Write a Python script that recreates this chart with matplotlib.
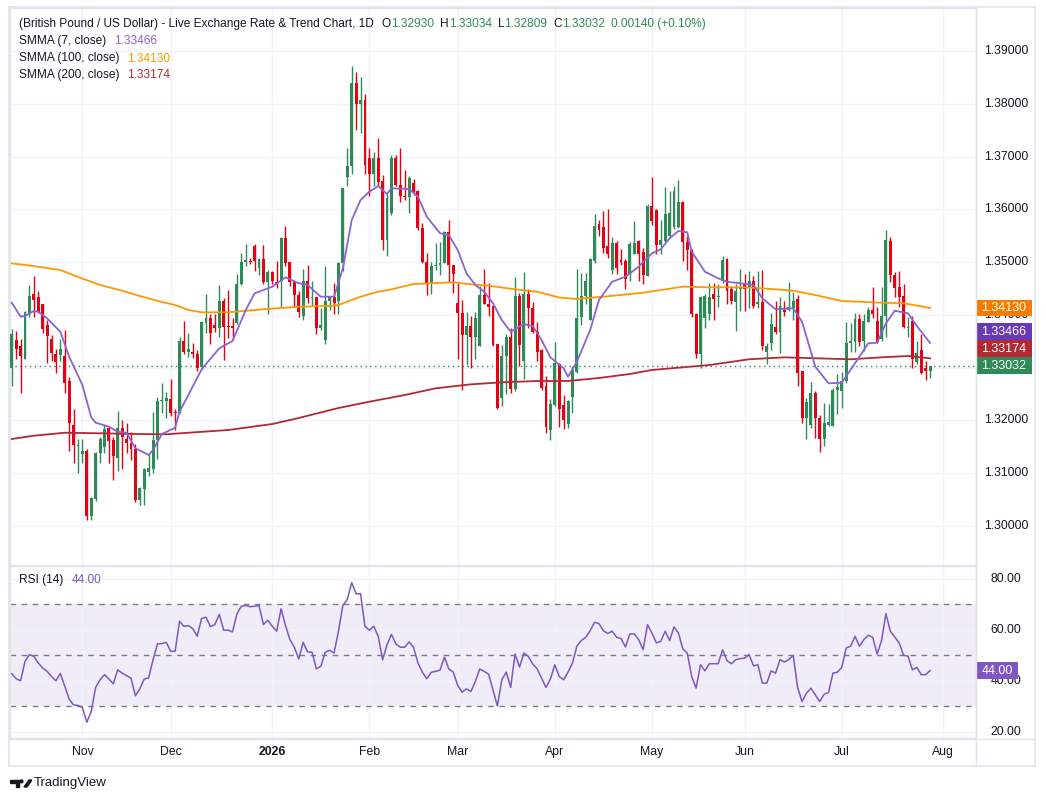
import matplotlib
matplotlib.use("Agg")
import matplotlib.pyplot as plt
import matplotlib.transforms as mtransforms
from matplotlib.patches import Rectangle, Polygon
import numpy as np
import pandas as pd

# ---------------- data ----------------
start_date = "2025-10-10"

open_ = [1.3300, 1.3352, 1.3341, 1.3317, 1.3403, 1.3439, 1.3434, 1.3421, 1.3381, 1.3354,
         1.3326, 1.3324, 1.3322, 1.3274, 1.3191, 1.3152, 1.3136, 1.3142, 1.3018, 1.3051,
         1.3137, 1.3149, 1.3185, 1.3163, 1.3129, 1.3186, 1.3164, 1.3157, 1.3146, 1.3049,
         1.3070, 1.3102, 1.3107, 1.3163, 1.3237, 1.3237, 1.3240, 1.3216, 1.3214, 1.3350,
         1.3330, 1.3329, 1.3326, 1.3301, 1.3385, 1.3394, 1.3380, 1.3374, 1.3427, 1.3378,
         1.3379, 1.3385, 1.3458, 1.3501, 1.3502, 1.3531, 1.3488, 1.3505, 1.3463, 1.3482,
         1.3463, 1.3465, 1.3545, 1.3501, 1.3465, 1.3437, 1.3398, 1.3464, 1.3431, 1.3434,
         1.3375, 1.3353, 1.3426, 1.3434, 1.3426, 1.3498, 1.3662, 1.3683, 1.3839, 1.3800,
         1.3808, 1.3697, 1.3667, 1.3697, 1.3653, 1.3541, 1.3593, 1.3698, 1.3647, 1.3626,
         1.3624, 1.3650, 1.3634, 1.3565, 1.3501, 1.3460, 1.3492, 1.3494, 1.3499, 1.3557,
         1.3494, 1.3422, 1.3403, 1.3362, 1.3379, 1.3357, 1.3341, 1.3438, 1.3420, 1.3416,
         1.3345, 1.3243, 1.3322, 1.3357, 1.3259, 1.3435, 1.3313, 1.3439, 1.3412, 1.3368,
         1.3333, 1.3264, 1.3182, 1.3229, 1.3306, 1.3229, 1.3193, 1.3244, 1.3292, 1.3396,
         1.3436, 1.3391, 1.3502, 1.3572, 1.3566, 1.3531, 1.3485, 1.3537, 1.3504, 1.3502,
         1.3477, 1.3516, 1.3540, 1.3519, 1.3474, 1.3607, 1.3598, 1.3533, 1.3540, 1.3550,
         1.3566, 1.3566, 1.3613, 1.3539, 1.3522, 1.3402, 1.3325, 1.3394, 1.3401, 1.3439,
         1.3433, 1.3464, 1.3505, 1.3448, 1.3425, 1.3449, 1.3458, 1.3451, 1.3465, 1.3420,
         1.3424, 1.3330, 1.3346, 1.3377, 1.3368, 1.3410, 1.3409, 1.3413, 1.3429, 1.3294,
         1.3205, 1.3191, 1.3252, 1.3204, 1.3164, 1.3191, 1.3189, 1.3257, 1.3256, 1.3275,
         1.3346, 1.3349, 1.3392, 1.3351, 1.3387, 1.3410, 1.3389, 1.3354, 1.3397, 1.3540,
         1.3476, 1.3453, 1.3436, 1.3375, 1.3389, 1.3310, 1.3333, 1.3299, 1.32930]

high = [1.3373, 1.3369, 1.3354, 1.3407, 1.3457, 1.3474, 1.3445, 1.3421, 1.3390, 1.3361,
        1.3336, 1.3355, 1.3371, 1.3282, 1.3221, 1.3165, 1.3164, 1.3146, 1.3054, 1.3140,
        1.3168, 1.3191, 1.3188, 1.3168, 1.3217, 1.3201, 1.3195, 1.3177, 1.3155, 1.3073,
        1.3110, 1.3136, 1.3216, 1.3245, 1.3270, 1.3254, 1.3278, 1.3222, 1.3357, 1.3388,
        1.3365, 1.3346, 1.3334, 1.3389, 1.3439, 1.3402, 1.3401, 1.3457, 1.3431, 1.3447,
        1.3394, 1.3477, 1.3518, 1.3534, 1.3507, 1.3534, 1.3508, 1.3532, 1.3485, 1.3483,
        1.3502, 1.3548, 1.3569, 1.3501, 1.3465, 1.3445, 1.3486, 1.3495, 1.3464, 1.3434,
        1.3413, 1.3493, 1.3434, 1.3461, 1.3501, 1.3640, 1.3716, 1.3871, 1.3860, 1.3851,
        1.3819, 1.3716, 1.3708, 1.3735, 1.3666, 1.3630, 1.3704, 1.3704, 1.3717, 1.3675,
        1.3664, 1.3657, 1.3637, 1.3574, 1.3518, 1.3501, 1.3536, 1.3539, 1.3558, 1.3579,
        1.3495, 1.3460, 1.3428, 1.3405, 1.3397, 1.3406, 1.3454, 1.3487, 1.3460, 1.3417,
        1.3345, 1.3343, 1.3364, 1.3374, 1.3471, 1.3441, 1.3481, 1.3449, 1.3425, 1.3387,
        1.3335, 1.3284, 1.3241, 1.3349, 1.3308, 1.3248, 1.3239, 1.3302, 1.3486, 1.3480,
        1.3480, 1.3507, 1.3592, 1.3579, 1.3596, 1.3600, 1.3547, 1.3540, 1.3524, 1.3505,
        1.3538, 1.3578, 1.3541, 1.3526, 1.3610, 1.3662, 1.3600, 1.3579, 1.3643, 1.3635,
        1.3645, 1.3656, 1.3616, 1.3550, 1.3524, 1.3404, 1.3436, 1.3439, 1.3461, 1.3461,
        1.3458, 1.3512, 1.3507, 1.3455, 1.3458, 1.3486, 1.3477, 1.3483, 1.3474, 1.3483,
        1.3484, 1.3346, 1.3403, 1.3427, 1.3434, 1.3427, 1.3463, 1.3444, 1.3438, 1.3294,
        1.3243, 1.3273, 1.3256, 1.3209, 1.3233, 1.3230, 1.3262, 1.3287, 1.3292, 1.3386,
        1.3384, 1.3403, 1.3401, 1.3401, 1.3415, 1.3453, 1.3415, 1.3452, 1.3560, 1.3547,
        1.3481, 1.3483, 1.3458, 1.3395, 1.3398, 1.3351, 1.3363, 1.3313, 1.33034]

low = [1.3264, 1.3317, 1.3252, 1.3316, 1.3395, 1.3395, 1.3403, 1.3365, 1.3309, 1.3312,
       1.3290, 1.3313, 1.3251, 1.3142, 1.3119, 1.3099, 1.3119, 1.3011, 1.3011, 1.3047,
       1.3118, 1.3138, 1.3119, 1.3087, 1.3104, 1.3108, 1.3138, 1.3124, 1.3045, 1.3040,
       1.3039, 1.3094, 1.3100, 1.3127, 1.3214, 1.3204, 1.3208, 1.3182, 1.3213, 1.3325,
       1.3320, 1.3318, 1.3294, 1.3298, 1.3366, 1.3344, 1.3368, 1.3358, 1.3315, 1.3356,
       1.3355, 1.3383, 1.3457, 1.3493, 1.3496, 1.3483, 1.3476, 1.3458, 1.3402, 1.3458,
       1.3450, 1.3415, 1.3493, 1.3455, 1.3417, 1.3396, 1.3391, 1.3423, 1.3417, 1.3364,
       1.3372, 1.3345, 1.3410, 1.3401, 1.3402, 1.3483, 1.3645, 1.3667, 1.3751, 1.3744,
       1.3667, 1.3626, 1.3645, 1.3645, 1.3522, 1.3512, 1.3590, 1.3645, 1.3613, 1.3618,
       1.3594, 1.3628, 1.3561, 1.3499, 1.3438, 1.3439, 1.3484, 1.3476, 1.3498, 1.3462,
       1.3442, 1.3317, 1.3257, 1.3305, 1.3300, 1.3316, 1.3341, 1.3420, 1.3397, 1.3341,
       1.3222, 1.3227, 1.3250, 1.3252, 1.3256, 1.3303, 1.3278, 1.3374, 1.3365, 1.3313,
       1.3258, 1.3176, 1.3163, 1.3227, 1.3188, 1.3184, 1.3185, 1.3213, 1.3290, 1.3380,
       1.3420, 1.3390, 1.3499, 1.3550, 1.3518, 1.3507, 1.3477, 1.3477, 1.3495, 1.3448,
       1.3464, 1.3515, 1.3464, 1.3458, 1.3474, 1.3571, 1.3515, 1.3515, 1.3539, 1.3547,
       1.3562, 1.3564, 1.3502, 1.3484, 1.3396, 1.3318, 1.3300, 1.3375, 1.3391, 1.3391,
       1.3415, 1.3461, 1.3420, 1.3420, 1.3369, 1.3408, 1.3407, 1.3413, 1.3413, 1.3413,
       1.3333, 1.3306, 1.3333, 1.3363, 1.3327, 1.3398, 1.3408, 1.3390, 1.3265, 1.3194,
       1.3164, 1.3186, 1.3167, 1.3140, 1.3151, 1.3189, 1.3189, 1.3211, 1.3223, 1.3271,
       1.3329, 1.3329, 1.3341, 1.3332, 1.3387, 1.3394, 1.3346, 1.3351, 1.3357, 1.3462,
       1.3433, 1.3414, 1.3375, 1.3357, 1.3300, 1.3306, 1.3287, 1.3276, 1.32809]

close = [1.3364, 1.3335, 1.3321, 1.3405, 1.3436, 1.3428, 1.3406, 1.3373, 1.3359, 1.3328,
         1.3311, 1.3336, 1.3271, 1.3195, 1.3153, 1.3153, 1.3142, 1.3018, 1.3052, 1.3137,
         1.3164, 1.3183, 1.3161, 1.3132, 1.3186, 1.3168, 1.3156, 1.3145, 1.3049, 1.3071,
         1.3107, 1.3110, 1.3163, 1.3237, 1.3239, 1.3243, 1.3214, 1.3214, 1.3350, 1.3330,
         1.3335, 1.3325, 1.3299, 1.3387, 1.3394, 1.3366, 1.3374, 1.3426, 1.3377, 1.3376,
         1.3374, 1.3458, 1.3501, 1.3503, 1.3500, 1.3502, 1.3505, 1.3463, 1.3482, 1.3464,
         1.3458, 1.3545, 1.3499, 1.3463, 1.3437, 1.3406, 1.3464, 1.3431, 1.3433, 1.3375,
         1.3380, 1.3427, 1.3434, 1.3423, 1.3498, 1.3640, 1.3683, 1.3839, 1.3800, 1.3808,
         1.3684, 1.3667, 1.3697, 1.3651, 1.3541, 1.3622, 1.3698, 1.3646, 1.3625, 1.3624,
         1.3660, 1.3632, 1.3565, 1.3501, 1.3460, 1.3493, 1.3495, 1.3499, 1.3557, 1.3494,
         1.3478, 1.3403, 1.3362, 1.3379, 1.3357, 1.3393, 1.3438, 1.3420, 1.3414, 1.3343,
         1.3224, 1.3322, 1.3357, 1.3259, 1.3435, 1.3343, 1.3439, 1.3412, 1.3367, 1.3330,
         1.3262, 1.3188, 1.3231, 1.3308, 1.3222, 1.3200, 1.3236, 1.3295, 1.3394, 1.3436,
         1.3464, 1.3505, 1.3569, 1.3560, 1.3526, 1.3516, 1.3537, 1.3488, 1.3501, 1.3467,
         1.3535, 1.3537, 1.3516, 1.3476, 1.3607, 1.3578, 1.3533, 1.3542, 1.3592, 1.3594,
         1.3635, 1.3613, 1.3539, 1.3522, 1.3401, 1.3325, 1.3434, 1.3436, 1.3434, 1.3429,
         1.3435, 1.3503, 1.3446, 1.3426, 1.3446, 1.3451, 1.3448, 1.3465, 1.3417, 1.3424,
         1.3341, 1.3341, 1.3382, 1.3368, 1.3417, 1.3406, 1.3415, 1.3427, 1.3290, 1.3205,
         1.3235, 1.3252, 1.3204, 1.3164, 1.3195, 1.3197, 1.3258, 1.3263, 1.3275, 1.3347,
         1.3351, 1.3392, 1.3349, 1.3389, 1.3410, 1.3401, 1.3348, 1.3397, 1.3541, 1.3476,
         1.3450, 1.3434, 1.3376, 1.3377, 1.3316, 1.3327, 1.3289, 1.3293, 1.33032]

# SMMA lines, read at selected bars (bar index, value)
smma7_bar = [0, 2, 3, 5, 6, 8, 10, 11, 13, 16, 18, 19, 22, 24, 26, 28, 31, 32, 34, 37, 38, 40,
             43, 47, 50, 53, 55, 59, 62, 65, 67, 70, 73, 75, 77, 79, 81, 83, 85, 86, 90, 92,
             94, 97, 99, 101, 103, 105, 107, 109, 111, 113, 116, 118, 120, 122, 125, 126, 128,
             131, 133, 136, 139, 142, 145, 147, 149, 151, 153, 154, 157, 160, 162, 165, 168,
             170, 173, 177, 179, 182, 185, 188, 191, 194, 196, 198, 200, 203, 205, 208]
smma7_val = [1.34229, 1.33964, 1.33977, 1.34072, 1.34058, 1.33933, 1.33763, 1.33679, 1.33205,
             1.32668, 1.32055, 1.31953, 1.31877, 1.31782, 1.31763, 1.31467, 1.31340, 1.31435,
             1.31739, 1.31858, 1.32162, 1.32478, 1.32966, 1.33364, 1.33503, 1.34091, 1.34407,
             1.34533, 1.34711, 1.34597, 1.34565, 1.34343, 1.34343, 1.34882, 1.35798, 1.36177,
             1.36335, 1.36443, 1.36291, 1.36399, 1.36386, 1.36240, 1.35860, 1.35546, 1.35513,
             1.35229, 1.34787, 1.34565, 1.34438, 1.34218, 1.33901, 1.33679, 1.33825, 1.33787,
             1.33522, 1.33193, 1.32985, 1.32825, 1.33110, 1.33711, 1.34280, 1.34627, 1.34722,
             1.34912, 1.35166, 1.35242, 1.35451, 1.35589, 1.35565, 1.35197, 1.34817, 1.34692,
             1.34627, 1.34597, 1.34565, 1.34313, 1.34104, 1.34123, 1.33869, 1.33015, 1.32700,
             1.32712, 1.33080, 1.33459, 1.33470, 1.33838, 1.34077, 1.34028, 1.33787, 1.33466]

smma100_bar = [0, 4, 11, 15, 20, 25, 29, 34, 37, 40, 43, 49, 57, 65, 72, 74, 79, 83, 86, 91,
               100, 104, 108, 114, 119, 124, 128, 134, 143, 152, 158, 166, 170, 177, 182, 188,
               197, 202, 208]
smma100_val = [1.34976, 1.34935, 1.34849, 1.34717, 1.34565, 1.34457, 1.34356, 1.34242,
               1.34186, 1.34091, 1.34047, 1.34047, 1.34104, 1.34153, 1.34167, 1.34186,
               1.34343, 1.34438, 1.34483, 1.34584, 1.34616, 1.34578, 1.34552, 1.34483,
               1.34438, 1.34328, 1.34299, 1.34343, 1.34419, 1.34533, 1.34521, 1.34521,
               1.34502, 1.34457, 1.34375, 1.34261, 1.34229, 1.34218, 1.34130]

smma200_bar = [0, 5, 12, 20, 28, 35, 40, 49, 59, 65, 74, 81, 89, 96, 104, 111, 119, 126, 133,
               140, 145, 158, 167, 175, 182, 190, 197, 203, 208]
smma200_val = [1.31644, 1.31706, 1.31763, 1.31752, 1.31739, 1.31733, 1.31763, 1.31814,
               1.31928, 1.32042, 1.32232, 1.32351, 1.32478, 1.32605, 1.32681, 1.32719,
               1.32744, 1.32744, 1.32801, 1.32877, 1.32953, 1.33047, 1.33156, 1.33193,
               1.33175, 1.33156, 1.33193, 1.33218, 1.33174]

rsi = [42.8, 40.8, 40.0, 47.6, 50.3, 49.6, 47.0, 45.0, 43.7, 41.7,
       40.0, 42.9, 37.8, 32.8, 30.5, 30.3, 29.5, 23.7, 27.9, 37.4,
       40.4, 42.4, 40.7, 38.8, 44.3, 43.0, 42.0, 41.1, 34.1, 36.8,
       40.7, 41.1, 48.3, 54.5, 54.6, 55.1, 51.6, 51.6, 63.4, 61.4,
       61.7, 60.5, 57.5, 64.5, 65.0, 61.3, 62.1, 66.1, 59.9, 59.9,
       59.2, 66.3, 69.3, 69.6, 69.1, 69.3, 69.6, 62.1, 63.8, 61.4,
       59.5, 68.3, 61.7, 56.2, 53.2, 48.6, 55.1, 51.3, 51.3, 44.7,
       45.7, 51.2, 52.0, 50.9, 59.5, 69.7, 72.0, 78.6, 74.2, 74.2,
       61.4, 59.9, 61.4, 57.5, 48.3, 54.2, 58.2, 54.5, 53.2, 53.2,
       55.3, 53.2, 47.0, 43.4, 40.8, 43.3, 43.7, 44.2, 49.3, 44.6,
       43.4, 38.2, 35.5, 36.8, 35.8, 39.7, 44.6, 43.7, 42.6, 36.4,
       30.1, 40.4, 43.4, 37.4, 50.5, 45.4, 50.9, 49.6, 46.6, 44.7,
       41.1, 37.4, 40.7, 46.3, 41.7, 40.4, 43.4, 47.0, 53.6, 55.8,
       57.1, 59.7, 63.0, 62.5, 59.7, 58.6, 59.5, 57.1, 56.6, 53.3,
       58.4, 58.4, 56.2, 52.2, 62.1, 58.8, 54.9, 55.5, 59.5, 55.8,
       61.2, 58.8, 52.5, 50.9, 41.7, 37.1, 46.3, 43.9, 46.7, 46.7,
       46.7, 52.2, 47.9, 46.7, 48.3, 48.7, 48.9, 50.3, 45.9, 46.3,
       39.1, 39.1, 43.9, 43.0, 48.3, 47.4, 48.3, 50.0, 37.4, 31.8,
       35.1, 37.1, 34.5, 31.8, 34.7, 35.4, 43.0, 43.4, 45.3, 52.9,
       53.6, 57.5, 53.6, 56.2, 57.9, 57.1, 50.5, 55.8, 66.4, 59.5,
       57.2, 54.9, 50.0, 49.7, 44.3, 45.3, 42.4, 42.4, 44.0]

price_ticks = [1.30, 1.31, 1.32, 1.33, 1.34, 1.35, 1.36, 1.37, 1.38, 1.39]
rsi_ticks = [20, 40, 60, 80]
rsi_bands = [70, 50, 30]

title = "(British Pound / US Dollar) - Live Exchange Rate & Trend Chart, 1D"
ohlc_letters = ["O", "H", "L", "C"]
change_text = "0.00140 (+0.10%)"
legend_names = ["SMMA (7, close)", "SMMA (100, close)", "SMMA (200, close)"]
rsi_name = "RSI (14)"

# ---------------- styling ----------------
UP = "#2e8b57"
DOWN = "#e50012"
C7 = "#8a63d2"
C100 = "#ff9800"
C200 = "#b22833"
GRID = "#f0f3fa"
BORDER = "#e0e3eb"
TXT = "#131722"
plt.rcParams["font.family"] = ["Liberation Sans", "DejaVu Sans"]

W, H = 1046, 801
fig = plt.figure(figsize=(W / 100, H / 100), dpi=100)
fig.patch.set_facecolor("white")
renderer = fig.canvas.get_renderer()


def fx(x):
    return x / W


def fy(y):
    return 1 - y / H


L_, R_ = 10, 976
ax = fig.add_axes([fx(L_), fy(565), fx(R_) - fx(L_), fy(8) - fy(565)])
rax = fig.add_axes([fx(L_), fy(738), fx(R_) - fx(L_), fy(566) - fy(738)])

n = len(close)
idx = np.arange(n)
o = np.array(open_)
h = np.array(high)
lo = np.array(low)
c = np.array(close)
up = c >= o
colors = np.where(up, UP, DOWN)

# month ticks from a business-day calendar
cal = pd.bdate_range(start_date, periods=n + 15)
month_pos, month_lab, month_bold = [], [], []
for i in range(1, len(cal)):
    if cal[i].month != cal[i - 1].month:
        month_pos.append(i)
        if cal[i].month == 1:
            month_lab.append(str(cal[i].year))
            month_bold.append(True)
        else:
            month_lab.append(cal[i].strftime("%b"))
            month_bold.append(False)

XMIN, XMAX = -0.4, 218.4
for a in (ax, rax):
    a.set_xlim(XMIN, XMAX)
    a.set_xticks(month_pos)
    a.tick_params(length=0, labelbottom=False, labelleft=False)
    a.grid(True, color=GRID, linewidth=1.0)
    a.set_axisbelow(True)
    for s in a.spines.values():
        s.set_color(BORDER)
        s.set_linewidth(1.0)

ax.set_ylim(1.29254, 1.39819)
ax.set_yticks(price_ticks)
rax.set_ylim(17.5, 85.13)
rax.set_yticks(rsi_ticks)

# candles
ax.vlines(idx, lo, h, colors=colors, linewidth=1.0, zorder=2)
body_h = np.maximum(np.abs(c - o), 0.00012)
ax.bar(idx, body_h, bottom=np.minimum(o, c), width=0.66, color=colors,
       edgecolor="none", zorder=3)

# SMMA lines
ax.plot(smma200_bar, smma200_val, color=C200, lw=1.3, zorder=4)
ax.plot(smma100_bar, smma100_val, color=C100, lw=1.3, zorder=4)
ax.plot(smma7_bar, smma7_val, color=C7, lw=1.3, zorder=4)

last_close = close[-1]
ax.axhline(last_close, color=UP, lw=1.0, linestyle=(0, (1, 2.5)), zorder=1.8)

ptrans = mtransforms.blended_transform_factory(fig.transFigure, ax.transData)

# value boxes (stacked bottom-up so they do not overlap)
box_h = 16.7 / 5272.0
gap = 0.4 / 5272.0
labels = sorted([(last_close, UP), (smma200_val[-1], C200), (smma7_val[-1], "#673ab7"),
                 (smma100_val[-1], "#f57c00")], key=lambda t: t[0])
prev_top = -1e9
box_centres = []
for val, col in labels:
    ctr = max(val, prev_top + box_h / 2 + gap)
    prev_top = ctr + box_h / 2
    box_centres.append(ctr)
    ax.add_patch(Rectangle((fx(976), ctr - box_h / 2), fx(1032) - fx(976), box_h,
                           transform=ptrans, facecolor=col, edgecolor="none",
                           clip_on=False, zorder=6))
    ax.text(fx(1004), ctr, f"{val:.5f}", transform=ptrans, ha="center", va="center",
            fontsize=9.0, color="white", clip_on=False, zorder=7)

# right price scale (labels fully hidden under a value box are not drawn)
for p in price_ticks:
    if any(abs(p - bc) < 0.3 * box_h for bc in box_centres):
        continue
    ax.text(fx(1006), p, f"{p:.5f}", transform=ptrans, ha="center", va="center",
            fontsize=8.8, color=TXT, clip_on=False, zorder=5)

# RSI pane
rax.axhspan(rsi_bands[-1], rsi_bands[0], color="#7e57c2", alpha=0.10, lw=0, zorder=0.5)
for b in rsi_bands:
    rax.axhline(b, color="#787b86", lw=1.0, linestyle=(0, (4, 4)), zorder=1.6)
rax.plot(idx, rsi, color="#7e57c2", lw=1.1, zorder=3)
rtrans = mtransforms.blended_transform_factory(fig.transFigure, rax.transData)
for t in rsi_ticks:
    rax.text(fx(1006), t, f"{t:.2f}", transform=rtrans, ha="center", va="center",
             fontsize=8.8, color=TXT, clip_on=False, zorder=5)
rbox_h = 16.7 / 2.533
rax.add_patch(Rectangle((fx(976), rsi[-1] - rbox_h / 2), fx(1018) - fx(976), rbox_h,
                        transform=rtrans, facecolor="#7e57c2", edgecolor="none",
                        clip_on=False, zorder=6))
rax.text(fx(997), rsi[-1], f"{rsi[-1]:.2f}", transform=rtrans, ha="center", va="center",
         fontsize=9.0, color="white", clip_on=False, zorder=7)

# time axis labels
ttrans = mtransforms.blended_transform_factory(rax.transData, fig.transFigure)
for pos, lab, bold in zip(month_pos, month_lab, month_bold):
    if XMIN <= pos <= XMAX:
        rax.text(pos, fy(752), lab, transform=ttrans, ha="center", va="center",
                 fontsize=8.8, color=TXT, fontweight="bold" if bold else "normal",
                 clip_on=False)

# outer frame and separators
frame = fig.add_axes([fx(9), fy(766), fx(1035) - fx(9), fy(7) - fy(766)], zorder=-5)
frame.set_xticks([])
frame.set_yticks([])
for s in frame.spines.values():
    s.set_color(BORDER)
    s.set_linewidth(1.2)
frame.patch.set_alpha(0)
fig.add_artist(plt.Line2D([fx(9), fx(1035)], [fy(738.5), fy(738.5)], color=BORDER, lw=1))
fig.add_artist(plt.Line2D([fx(976), fx(976)], [fy(7), fy(766)], color=BORDER, lw=1))

# header / legend texts, laid out one after another
FS = 8.55


def put_seq(parts, x0, y0):
    """parts: list of (text, colour, gap_px_before)."""
    x = x0
    for txt, col, gap_px in parts:
        x += gap_px
        t = fig.text(fx(x), fy(y0), txt, color=col, fontsize=FS, ha="left", va="center")
        bb = t.get_window_extent(renderer=renderer)
        x = bb.x1


ohlc_vals = [open_[-1], high[-1], low[-1], close[-1]]
parts = [(title, TXT, 0)]
for k, (letter, val) in enumerate(zip(ohlc_letters, ohlc_vals)):
    parts.append((letter, TXT, 8 if k == 0 else 6))
    parts.append((f"{val:.5f}", UP, 0))
parts.append((change_text, UP, 6))
put_seq(parts, 19, 24)

legend_vals = [smma7_val[-1], smma100_val[-1], smma200_val[-1]]
legend_cols = [C7, C100, C200]
for name, v, col, yy in zip(legend_names, legend_vals, legend_cols, [41, 58.5, 75]):
    put_seq([(name, TXT, 0), (f"{v:.5f}", col, 8)], 19, yy)

put_seq([(rsi_name, TXT, 0), (f"{rsi[-1]:.2f}", "#7e57c2", 8)], 19, 580)

# TradingView logo
logo_ax = fig.add_axes([fx(10), fy(790), fx(32) - fx(10), fy(777) - fy(790)])
logo_ax.set_xlim(0, 22)
logo_ax.set_ylim(0, 13)
logo_ax.axis("off")
logo_ax.add_patch(Polygon([[0, 10], [9, 10], [9, 3], [6, 3], [6, 7.5], [0, 7.5]],
                          closed=True, color="#131722"))
logo_ax.add_patch(Polygon([[14, 3], [19, 10], [22, 10], [17, 3]], closed=True,
                          color="#131722"))
logo_ax.add_patch(plt.Circle((11.5, 8.6), 1.4, color="#131722"))
fig.text(fx(34), fy(783), "TradingView", color=TXT, fontsize=9.5, ha="left",
         va="center")

fig.savefig("out.png", dpi=100, facecolor="white")
